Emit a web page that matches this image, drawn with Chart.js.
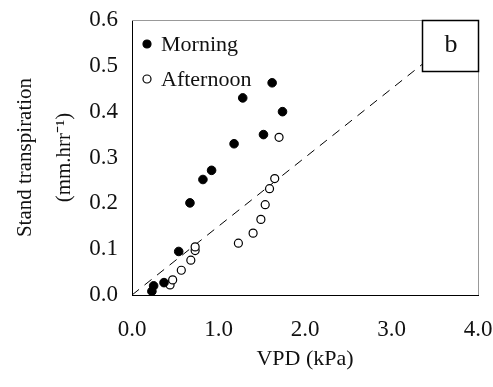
<!DOCTYPE html>
<html>
<head>
<meta charset="utf-8">
<script src="https://cdn.jsdelivr.net/npm/chart.js@4/dist/chart.umd.min.js"></script>
<style>
  html, body { margin: 0; padding: 0; background: #fff; }
  #wrap { width: 493px; height: 387px; }
</style>
</head>
<body>
<div id="wrap"><canvas id="vpd-chart"></canvas></div>
<script>
// Morning (filled dots)
const morning_vpd = [0.23, 0.25, 0.37, 0.54, 0.67, 0.82, 0.92, 1.18, 1.28, 1.52, 1.62, 1.74];
const morning_tr  = [0.008, 0.02, 0.027, 0.095, 0.201, 0.252, 0.272, 0.33, 0.43, 0.35, 0.463, 0.40];

// Afternoon (open circles)
const afternoon_vpd = [0.44, 0.47, 0.57, 0.68, 0.73, 0.73, 1.23, 1.40, 1.49, 1.54, 1.59, 1.65, 1.70];
const afternoon_tr  = [0.022, 0.033, 0.054, 0.076, 0.097, 0.105, 0.113, 0.135, 0.165, 0.197, 0.232, 0.254, 0.344];

// dashed reference line
const fit_vpd = [0, 4];
const fit_tr  = [0, 0.6];

const x_ticks = [0, 1, 2, 3, 4];
const y_ticks = [0, 0.1, 0.2, 0.3, 0.4, 0.5, 0.6];

const panel_label = 'b';
const font_family = '"Liberation Serif", "Times New Roman", serif';

function toPoints(xs, ys) {
    return xs.map((x, i) => ({x: x, y: ys[i]}));
}

// legend inside plot + the "b" box + grey top/right frame
const extras = {
    id: 'extras',
    afterDatasetsDraw(chart) {
        const ctx = chart.ctx;
        const a = chart.chartArea;
        ctx.save();
        // grey top / right frame
        ctx.strokeStyle = '#999';
        ctx.lineWidth = 1;
        ctx.beginPath();
        ctx.moveTo(a.left, a.top + 0.5);
        ctx.lineTo(a.right + 0.5, a.top + 0.5);
        ctx.lineTo(a.right + 0.5, a.bottom);
        ctx.stroke();

        // panel label box
        const bw = 56, bh = 51;
        ctx.fillStyle = '#fff';
        ctx.fillRect(a.right - bw, a.top, bw, bh);
        ctx.strokeStyle = '#000';
        ctx.lineWidth = 1.5;
        ctx.strokeRect(a.right - bw + 0.5, a.top + 0.5, bw, bh);
        ctx.fillStyle = '#111';
        ctx.font = '26px ' + font_family;
        ctx.textAlign = 'center';
        ctx.textBaseline = 'middle';
        ctx.fillText(panel_label, a.right - bw / 2 + 1, a.top + bh / 2);

        // legend
        ctx.font = '22px ' + font_family;
        ctx.textAlign = 'left';
        chart.data.datasets.slice(0, 2).forEach((ds, i) => {
            const y = a.top + 24 + i * 35;
            const x = a.left + 15;
            ctx.beginPath();
            ctx.arc(x, y, 4, 0, Math.PI * 2);
            ctx.fillStyle = ds.pointBackgroundColor;
            ctx.fill();
            ctx.lineWidth = 1.2;
            ctx.strokeStyle = '#000';
            ctx.stroke();
            ctx.fillStyle = '#111';
            ctx.fillText(ds.label, x + 14, y + 1);
        });
        ctx.restore();
    }
};

const canvas = document.getElementById('vpd-chart');
const vpd_chart = new Chart(canvas, {
    type: 'scatter',
    data: {
        datasets: [
            {
                label: 'Morning',
                data: toPoints(morning_vpd, morning_tr),
                pointRadius: 4.3,
                pointBackgroundColor: '#000',
                pointBorderColor: '#000',
                pointBorderWidth: 1,
                order: 1,
            },
            {
                label: 'Afternoon',
                data: toPoints(afternoon_vpd, afternoon_tr),
                pointRadius: 4,
                pointBackgroundColor: '#fff',
                pointBorderColor: '#000',
                pointBorderWidth: 1.2,
                order: 2,
            },
            {
                type: 'line',
                label: 'fit',
                data: toPoints(fit_vpd, fit_tr),
                borderColor: '#000',
                borderWidth: 1,
                borderDash: [9, 7],
                pointRadius: 0,
                fill: false,
                order: 3,
            },
        ]
    },
    options: {
        responsive: true,
        maintainAspectRatio: false,
        animation: false,
        layout: { padding: { left: 0, right: 15, top: 20, bottom: 11 } },
        plugins: {
            legend: { display: false },
            tooltip: { enabled: false },
        },
        scales: {
            x: {
                type: 'linear',
                min: 0,
                max: 4,
                afterBuildTicks: (s) => { s.ticks = x_ticks.map(v => ({value: v})); },
                afterFit: (s) => { s.height = 81; s.paddingLeft = 0; s.paddingRight = 0; },
                grid: { display: false, drawTicks: true, tickLength: 6, tickColor: '#000' },
                border: { color: '#000', width: 1 },
                ticks: {
                    color: '#111',
                    padding: 15,
                    font: { family: font_family, size: 23 },
                    callback: (v) => Number(v).toFixed(1),
                },
                title: {
                    display: true,
                    text: 'VPD (kPa)',
                    color: '#111',
                    padding: { top: 2 },
                    font: { family: font_family, size: 22 },
                },
            },
            y: {
                type: 'linear',
                min: 0,
                max: 0.6,
                afterBuildTicks: (s) => { s.ticks = y_ticks.map(v => ({value: v})); },
                afterFit: (s) => { s.width = 132; s.paddingTop = 0; s.paddingBottom = 0; },
                grid: { display: false, drawTicks: true, tickLength: 6, tickColor: '#000' },
                border: { color: '#000', width: 1 },
                ticks: {
                    color: '#111',
                    padding: 8,
                    font: { family: font_family, size: 23 },
                    callback: (v) => Number(v).toFixed(1),
                },
                title: {
                    display: true,
                    text: ['Stand transpiration', '(mm.hrr\u207B\u00B9)'],
                    color: '#111',
                    padding: { top: 6, bottom: 0 },
                    font: { family: font_family, size: 21, lineHeight: 1.85 },
                },
            },
        },
    },
    plugins: [extras],
});
</script>
</body>
</html>
